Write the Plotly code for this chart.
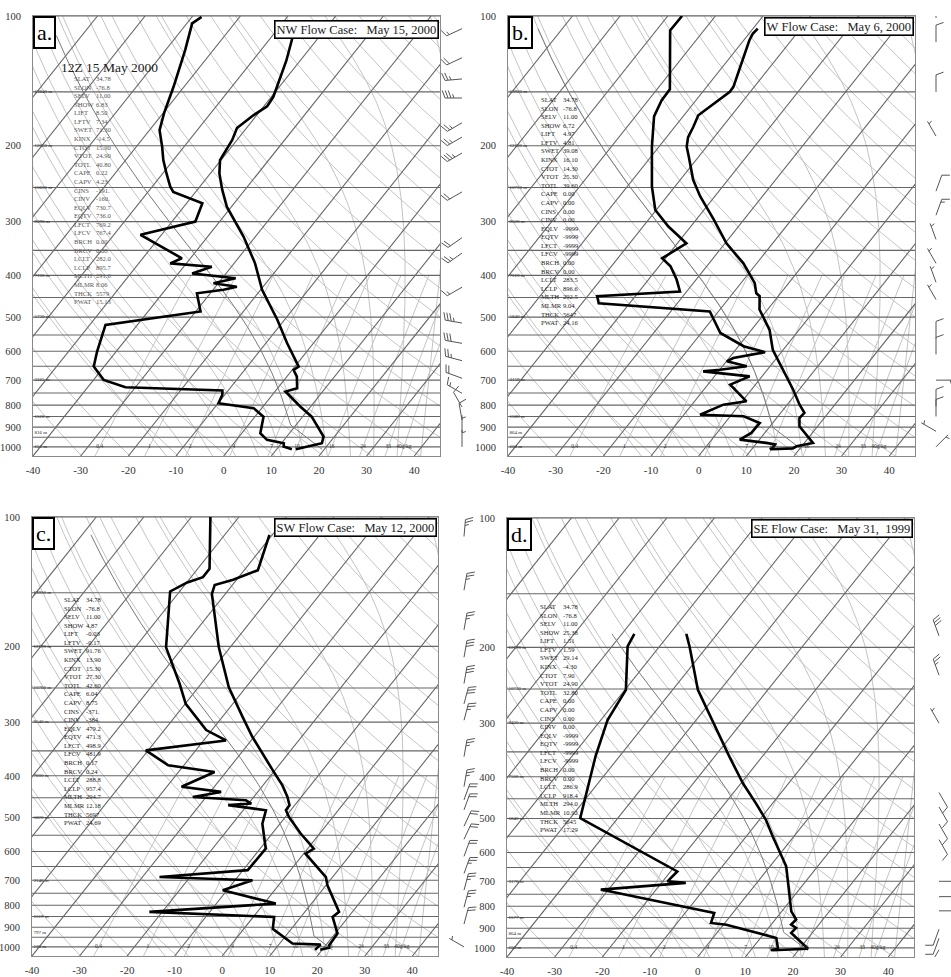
import numpy as np
import plotly.graph_objects as go

# ------------------------------------------------------------------ data
panel_keys = ["a", "b", "c", "d"]
panel_titles = ["NW Flow Case:   May 15, 2000", "W Flow Case:   May 6, 2000",
                "SW Flow Case:   May 12, 2000", "SE Flow Case:   May 31,  1999"]
header_a = "12Z 15 May 2000"

# temperature profiles (hPa, degC)
a_temp_p = [1013, 998, 981, 946, 851, 806, 744, 731, 687, 663, 651, 575, 507, 432, 403, 375, 325, 297, 277, 253,
            232, 216, 203, 194, 182, 170, 162, 154, 146, 127, 111]
a_temp_t = [14.0, 16.3, 18.5, 17.7, 11.9, 7.8, 2.2, 4.1, 2.1, 0.3, 0.8, -5.5, -11.5, -19.7, -22.6, -25.6, -32.5,
            -37.3, -41.0, -44.8, -48.1, -50.2, -50.7, -51.0, -52.0, -50.7, -49.3, -49.6, -50.5, -52.9, -55.7]
a_dew_p = [1013, 998, 981, 963, 930, 851, 813, 792, 757, 740, 727, 699, 651, 601, 521, 485, 440, 432, 425, 417,
           406, 396, 382, 375, 365, 322, 300, 272, 256, 249, 232, 216, 201, 184, 168, 146, 120, 104, 100.5]
a_dew_t = [13.2, 11.0, 10.5, 6.4, 3.9, 1.8, -1.7, -9.9, -10.5, -11.2, -32.1, -37.9, -42.2, -44.0, -46.7, -29.0,
           -32.8, -27.8, -25.5, -31.0, -27.2, -37.1, -34.1, -43.4, -41.8, -54.4, -45.1, -46.7, -54.7, -56.2, -59.2,
           -62.1, -64.6, -67.9, -69.8, -72.2, -75.9, -78.9, -78.0]

b_temp_p = [1013, 1008, 997, 979, 896, 857, 834, 798, 736, 650, 595, 535, 507, 480, 447, 440, 417, 375, 337, 297,
            262, 240, 212, 201, 191, 181, 170, 158, 150, 146, 114, 110, 107]
b_temp_t = [14.0, 18.5, 18.9, 21.8, 16.2, 14.8, 15.0, 12.6, 8.7, 2.4, -2.2, -6.2, -8.9, -11.7, -13.9, -15.1, -17.1,
            -22.8, -29.7, -36.3, -43.1, -47.3, -52.1, -54.2, -55.5, -56.1, -57.0, -55.4, -54.3, -54.4, -58.8, -59.2,
            -59.0]
b_dew_p = [1013, 1003, 987, 979, 962, 928, 880, 849, 842, 798, 784, 717, 686, 668, 662, 650, 633, 622, 603, 584,
           544, 485, 464, 447, 436, 409, 381, 365, 337, 308, 282, 249, 201, 171, 157, 148, 108, 100]
b_dew_t = [13.8, 14.2, 14.1, 12.0, 5.9, 7.2, 7.3, 2.8, -6.6, -3.4, 0.9, -5.3, -2.6, -13.2, -9.9, -4.9, -9.9, -9.1,
           -3.4, -8.9, -16.0, -21.8, -46.5, -48.0, -31.4, -34.1, -37.6, -40.7, -38.1, -44.7, -50.2, -54.8, -61.5,
           -66.1, -67.2, -67.3, -77.1, -77.0]

c_temp_p = [1016, 1004, 991, 931, 852, 829, 719, 688, 607, 591, 545, 499, 481, 468, 448, 421, 388, 355, 325, 292,
            260, 249, 201, 177, 151, 144, 140, 133, 110]
c_temp_t = [19.6, 21.1, 20.7, 20.5, 16.7, 17.2, 10.3, 8.6, 0.4, 1.3, -4.0, -9.2, -11.0, -11.1, -12.9, -15.9, -20.5,
            -25.4, -30.3, -35.7, -41.5, -43.6, -52.4, -57.0, -62.8, -63.7, -60.7, -57.1, -60.6]
c_dew_p = [1016, 988, 982, 908, 852, 829, 793, 738, 700, 688, 663, 591, 517, 481, 468, 464, 456, 448, 436, 424,
           392, 378, 349, 331, 313, 272, 244, 201, 149, 142, 138, 132, 100]
c_dew_t = [18.5, 18.8, 12.7, 6.1, 4.4, -22.7, 2.5, -10.9, -6.3, -26.4, -9.0, -8.8, -13.7, -15.2, -24.0, -19.4, -21.1,
           -32.8, -27.7, -36.9, -32.4, -43.3, -50.5, -35.3, -41.2, -49.9, -54.6, -63.5, -72.0, -69.9, -67.5, -67.5,
           -76.0]

d_temp_p = [1013, 1005, 923, 899, 883, 859, 822, 694, 646, 551, 504, 461, 414, 359, 300, 251, 199, 186]
d_temp_t = [14.6, 21.8, 15.6, 15.8, 14.2, 14.4, 12.0, 6.0, 3.4, -4.4, -8.6, -13.5, -19.6, -26.9, -35.9, -44.7,
            -53.7, -56.5]
d_dew_p = [1013, 1005, 948, 883, 875, 829, 738, 732, 706, 700, 664, 499, 359, 295, 251, 199, 186]
d_dew_t = [14.2, 15.5, 13.3, 0.6, -2.9, -3.9, -29.6, -31.6, -14.9, -19.0, -18.6, -47.9, -55.0, -58.6, -59.8, -66.7,
           -67.4]

# winds (pressure, staff direction in degrees, speed in knots)
a_wind_p = [107, 125, 140, 155, 177, 191, 208, 256, 327, 355, 426, 516, 575, 631, 693, 751, 808, 866, 925, 1000]
a_wind_dir = [245, 245, 265, 270, 240, 240, 240, 240, 235, 235, 240, 280, 280, 285, 290, 300, 330, 350, 0, 0]
a_wind_spd = [15, 20, 25, 35, 25, 25, 35, 20, 20, 25, 15, 35, 30, 25, 20, 15, 10, 10, 5, 5]
b_wind_p = [101, 115, 150, 190, 255, 290, 330, 375, 415, 455, 560, 610, 700, 805, 850, 920, 1000]
b_wind_dir = [0, 0, 0, 330, 20, 20, 340, 330, 340, 330, 0, 0, 90, 0, 0, 300, 45]
b_wind_spd = [10, 10, 10, 5, 10, 15, 5, 5, 5, 5, 10, 10, 5, 10, 10, 5, 5]
c_wind_p = [100, 111, 148, 183, 212, 244, 272, 297, 361, 424, 455, 480, 524, 562, 616, 675, 738, 809, 885, 1000]
c_wind_dir = [5, 5, 10, 10, 10, 10, 15, 15, 10, 10, 20, 20, 25, 25, 20, 20, 15, 15, 15, 300]
c_wind_spd = [25, 25, 25, 25, 30, 30, 30, 25, 25, 25, 20, 20, 20, 20, 20, 25, 25, 25, 20, 5]
d_wind_p = [188, 232, 300, 435, 470, 515, 560, 700, 760, 820, 905, 950, 1010]
d_wind_dir = [340, 340, 330, 150, 150, 150, 150, 90, 90, 90, 200, 200, 210]
d_wind_spd = [30, 25, 5, 10, 10, 10, 10, 5, 5, 5, 10, 10, 10]

# sounding statistics
stat_names = ["SLAT", "SLON", "SELV", "SHOW", "LIFT", "LFTV", "SWET", "KINX", "CTOT", "VTOT", "TOTL", "CAPE",
              "CAPV", "CINS", "CINV", "EQLV", "EQTV", "LFCT", "LFCV", "BRCH", "BRCV", "LCLT", "LCLP", "MLTH",
              "MLMR", "THCK", "PWAT"]
a_stats = ["34.78", "-76.8", "11.00", "6.83", "8.50", "7.34", "71.30", "-14.5", "15.90", "24.90", "40.80", "0.22",
           "4.23", "-191.", "-160.", "730.7", "736.0", "769.2", "767.4", "0.00", "0.08", "282.0", "895.7", "291.6",
           "8.06", "5579", "15.13"]
b_stats = ["34.78", "-76.8", "11.00", "6.72", "4.97", "4.81", "39.08", "16.10", "14.30", "25.30", "39.60", "0.00",
           "0.00", "0.00", "0.00", "-9999", "-9999", "-9999", "-9999", "0.00", "0.00", "283.5", "896.6", "292.5",
           "9.04", "5647", "24.16"]
c_stats = ["34.78", "-76.8", "11.00", "4.87", "-0.03", "-0.17", "91.76", "13.90", "15.30", "27.30", "42.60", "6.04",
           "8.75", "-371.", "-384.", "479.2", "471.3", "498.9", "481.9", "0.17", "0.24", "288.8", "957.4", "294.7",
           "12.18", "5697", "24.69"]
d_stats = ["34.78", "-76.8", "11.00", "25.38", "1.51", "1.59", "29.14", "-4.30", "7.90", "24.90", "32.80", "0.00",
           "0.00", "0.00", "0.00", "-9999", "-9999", "-9999", "-9999", "0.00", "0.00", "286.9", "918.4", "294.0",
           "10.92", "5645", "17.29"]
# mixed-layer parcel (theta K, mixing ratio g/kg) and surface pressure
ml_theta = [291.6, 292.5, 294.0, 294.0]
ml_mixr = [8.06, 9.04, 12.18, 10.92]
sfc_p = [1013, 1013, 1016, 1013]
parcel_top = [111, 107, 110, 186]

# heights of mandatory levels (m)
height_levels = [100, 150, 200, 250, 300, 400, 500, 700, 850, 925, 1000]
a_heights = [16350, 13840, 12050, 10600, 9390, 7130, 5730, 3165, 1526, 816, 151]
b_heights = [16390, 13920, 12100, 10750, 9520, 7510, 5840, 3159, 1580, 864, 150]
c_heights = [16450, 13950, 12190, 10760, 9540, 7600, 5820, 3146, 1519, 797, 120]
d_heights = [None, None, 12190, 10730, 9420, 7500, 5840, 3170, 1577, 864, 150]

# axis labels
x_ticks = [-40, -30, -20, -10, 0, 10, 20, 30, 40]
y_ticks = [100, 200, 300, 400, 500, 600, 700, 800, 900, 1000]
mixr_values = [0.4, 1, 2, 4, 7, 10, 16, 24, 33, 40]
mixr_labels = ["0.4", "1", "2", "4", "7", "10", "16", "24", "33", "40g/kg"]

# ------------------------------------------------------------------ diagram constants
K_SKEW = 72.0
P_BOT, P_TOP = 1050.0, 100.0
X_MIN, X_MAX = -40.0, 45.4
RD, CP, LV, EPS = 287.04, 1005.7, 2.501e6, 0.622
KAPPA = RD / CP
W, H = 951, 977

# layout boxes in window pixels (left, top, right, bottom)
boxes = [(33, 16, 440, 456), (508, 16, 915, 456), (32, 517, 438, 956), (507, 518, 914, 957)]
barb_cols = [(441, 481, 21), (916, 951, 20), (439, 481, 25), (915, 951, 24)]
stat_pos = [(73, 95, 78), (540, 562, 99), (63, 85, 599), (539, 562, 606)]


def fx(px):
    return px / W


def fy(py):
    return 1 - py / H


def skew_x(T, p):
    return np.asarray(T) + K_SKEW * np.log10(P_BOT / np.asarray(p, float))


def sat_vp(Tk):
    return 6.112 * np.exp(17.67 * (Tk - 273.15) / (Tk - 29.65))


def moist_rate(Tk, p):
    es = sat_vp(Tk)
    rs = EPS * es / (p - es)
    return (RD * Tk + LV * rs) / (CP + LV ** 2 * rs * EPS / (RD * Tk ** 2))


def moist_lines(T0, p_start, p_end, n=240):
    lnp = np.linspace(np.log(p_start), np.log(p_end), n)
    T = np.atleast_1d(np.asarray(T0, float)) + 273.15
    out = [T.copy()]
    for i in range(n - 1):
        h = lnp[i + 1] - lnp[i]
        p0, pm, p1 = np.exp(lnp[i]), np.exp(lnp[i] + h / 2), np.exp(lnp[i + 1])
        k1 = moist_rate(T, p0)
        k2 = moist_rate(T + h / 2 * k1, pm)
        k3 = moist_rate(T + h / 2 * k2, pm)
        k4 = moist_rate(T + h * k3, p1)
        T = T + h / 6 * (k1 + 2 * k2 + 2 * k3 + k4)
        out.append(T.copy())
    return np.exp(lnp), np.array(out) - 273.15


def dew_from_w(w, p):
    e = w * np.asarray(p, float) / (622.0 + w)
    lg = np.log(e / 6.112)
    return 243.5 * lg / (17.67 - lg)


def parcel_trace(theta, w, ps, ptop):
    p = np.linspace(ps, ptop, 3000)
    tdry = theta * (p / 1000.0) ** KAPPA - 273.15
    tdw = dew_from_w(w, p)
    idx = int(np.argmax(tdry <= tdw))
    pm, tm = moist_lines([tdry[idx]], p[idx], ptop, 200)
    return np.concatenate([p[:idx + 1], pm[1:]]), np.concatenate([tdry[:idx + 1], tm[1:, 0]])


# ---- background lines (computed once, shared by the four panels)
light_x, light_y = [], []
p_curve = np.geomspace(P_BOT, P_TOP, 120)
for th in np.arange(220, 481, 10):
    T = th * (p_curve / 1000.0) ** KAPPA - 273.15
    light_x += list(skew_x(T, p_curve)) + [None]
    light_y += list(p_curve) + [None]
t0_moist = np.arange(-15, 41, 5)
pu, tu = moist_lines(t0_moist, 1000.0, P_TOP, 240)
pd_, td_ = moist_lines(t0_moist, 1000.0, P_BOT, 10)
for j in range(len(t0_moist)):
    pp = np.concatenate([pd_[::-1], pu[1:]])
    tt = np.concatenate([td_[::-1, j], tu[1:, j]])
    light_x += list(skew_x(tt, pp)) + [None]
    light_y += list(pp) + [None]
p_mix = np.geomspace(P_BOT, 400, 30)
for w in mixr_values:
    light_x += list(skew_x(dew_from_w(w, p_mix), p_mix)) + [None]
    light_y += list(p_mix) + [None]

dark_x, dark_y = [], []
for T in range(-120, 51, 10):
    dark_x += [T, T + K_SKEW * np.log10(P_BOT / P_TOP), None]
    dark_y += [P_BOT, P_TOP, None]
for p in range(100, 1001, 50):
    dark_x += [X_MIN - 5, X_MAX + 5, None]
    dark_y += [p, p, None]

temps = [(a_temp_p, a_temp_t), (b_temp_p, b_temp_t), (c_temp_p, c_temp_t), (d_temp_p, d_temp_t)]
dews = [(a_dew_p, a_dew_t), (b_dew_p, b_dew_t), (c_dew_p, c_dew_t), (d_dew_p, d_dew_t)]
winds = [(a_wind_p, a_wind_dir, a_wind_spd), (b_wind_p, b_wind_dir, b_wind_spd),
         (c_wind_p, c_wind_dir, c_wind_spd), (d_wind_p, d_wind_dir, d_wind_spd)]
stats = [a_stats, b_stats, c_stats, d_stats]
heights = [a_heights, b_heights, c_heights, d_heights]

SERIF = "Liberation Serif, Times New Roman, serif"
fig = go.Figure()
annotations = []
layout_axes = {}

for i in range(4):
    sfx = "" if i == 0 else str(i + 1)
    xa, ya = "x" + sfx, "y" + sfx
    l, t, r, b = boxes[i]
    ppd = (b - t) / np.log10(P_BOT / P_TOP)

    fig.add_trace(go.Scatter(x=light_x, y=light_y, mode="lines", xaxis=xa, yaxis=ya,
                             line=dict(color="#c4c4c4", width=1), hoverinfo="skip", showlegend=False))
    fig.add_trace(go.Scatter(x=dark_x, y=dark_y, mode="lines", xaxis=xa, yaxis=ya,
                             line=dict(color="#666666", width=1.1), hoverinfo="skip", showlegend=False))
    pp, pt = parcel_trace(ml_theta[i], ml_mixr[i], sfc_p[i], parcel_top[i])
    fig.add_trace(go.Scatter(x=skew_x(pt, pp), y=pp, mode="lines", xaxis=xa, yaxis=ya,
                             line=dict(color="#7a7a7a", width=1), hoverinfo="skip", showlegend=False))
    for prof in (temps[i], dews[i]):
        fig.add_trace(go.Scatter(x=skew_x(prof[1], prof[0]), y=prof[0], mode="lines", xaxis=xa, yaxis=ya,
                                 line=dict(color="black", width=2.6), showlegend=False))
    # height labels
    hl = [(p, f"{h} m") for p, h in zip(height_levels, heights[i]) if h is not None]
    fig.add_trace(go.Scatter(x=[X_MIN + 0.3] * len(hl), y=[v[0] for v in hl], text=[v[1] for v in hl],
                             mode="text", textposition="middle right", xaxis=xa, yaxis=ya,
                             textfont=dict(family=SERIF, size=5, color="#222"), showlegend=False))
    # mixing-ratio labels
    fig.add_trace(go.Scatter(x=skew_x(dew_from_w(np.array(mixr_values, float), 1000.0), 1000.0),
                             y=[1000] * len(mixr_values), text=mixr_labels, mode="text",
                             textposition="middle center", xaxis=xa, yaxis=ya,
                             textfont=dict(family=SERIF, size=5.5, color="#333"), showlegend=False))

    # wind barbs in a pixel-scaled column axis
    c0, c1, base = barb_cols[i]
    bx_name = "x" + str(5 + i)
    bxs, bys = [], []
    for p, d, s in zip(*winds[i]):
        th = np.radians(d)
        ux, uy = np.sin(th), np.cos(th)
        fth = np.radians(d + 70)
        fxv, fyv = np.sin(fth), np.cos(fth)
        L, FL, SP = 17.0, 8.0, 3.0
        segs = [((0, 0), (L * ux, L * uy))]
        pos = L
        nfull, half = int(s // 10), (s % 10) >= 5
        for k in range(nfull):
            segs.append(((pos * ux, pos * uy), (pos * ux + FL * fxv, pos * uy + FL * fyv)))
            pos -= SP
        if half:
            if nfull == 0:
                pos = L - SP
            segs.append(((pos * ux, pos * uy), (pos * ux + FL / 2 * fxv, pos * uy + FL / 2 * fyv)))
        for (x0, y0), (x1, y1) in segs:
            bxs += [base + x0, base + x1, None]
            bys += [10 ** (np.log10(p) - y0 / ppd), 10 ** (np.log10(p) - y1 / ppd), None]
    fig.add_trace(go.Scatter(x=bxs, y=bys, mode="lines", xaxis=bx_name, yaxis=ya,
                             line=dict(color="#555", width=1), hoverinfo="skip", showlegend=False))

    layout_axes["xaxis" + sfx] = dict(domain=[fx(l), fx(r)], range=[X_MIN, X_MAX], anchor=ya,
                                      tickvals=x_ticks, ticktext=[str(v) for v in x_ticks],
                                      showgrid=False, zeroline=False, ticks="", ticklen=0,
                                      ticklabelstandoff=4, automargin=False,
                                      showline=True, mirror=True, linecolor="#8a8a8a", linewidth=1,
                                      tickfont=dict(family=SERIF, size=11, color="#333"))
    layout_axes["yaxis" + sfx] = dict(domain=[fy(b), fy(t)], type="log",
                                      range=[np.log10(P_BOT), np.log10(P_TOP)], anchor=xa,
                                      tickvals=y_ticks, ticktext=[str(v) for v in y_ticks],
                                      showgrid=False, zeroline=False, ticks="", ticklen=0,
                                      ticklabelstandoff=9, automargin=False,
                                      showline=True, mirror=True, linecolor="#8a8a8a", linewidth=1,
                                      tickfont=dict(family=SERIF, size=10.5, color="#333"))
    layout_axes["xaxis" + str(5 + i)] = dict(domain=[fx(c0), min(fx(c1), 1.0)], range=[0, c1 - c0], anchor=ya,
                                             visible=False, showgrid=False, zeroline=False, automargin=False)

    # panel letter and title boxes
    annotations.append(dict(x=fx(l), y=fy(t), xref="paper", yref="paper", xanchor="left", yanchor="top",
                            text=panel_keys[i] + ".", showarrow=False, bgcolor="white",
                            bordercolor="black", borderwidth=2, borderpad=2,
                            font=dict(family=SERIF, size=22, color="black")))
    tx, ty = (r - 1, t + 4) if i == 0 else (r - 1, t + 1)
    annotations.append(dict(x=fx(tx), y=fy(ty), xref="paper", yref="paper", xanchor="right", yanchor="top",
                            text=panel_titles[i].replace(" ", "\u00a0"), showarrow=False, bgcolor="white",
                            bordercolor="black", borderwidth=1.6, borderpad=1,
                            font=dict(family=SERIF, size=12.5, color="#222")))
    # stats block
    lx, vx, y0 = stat_pos[i]
    scol = "#555" if i == 0 else "#222"
    for txt, xx in (("<br>".join(stat_names), lx), ("<br>".join(stats[i]), vx)):
        annotations.append(dict(x=fx(xx), y=fy(y0 - 4.2), xref="paper", yref="paper", xanchor="left",
                                yanchor="top", align="left", text=txt, showarrow=False, borderpad=0,
                                font=dict(family=SERIF, size=6.6, color=scol)))

annotations.append(dict(x=fx(59), y=fy(68), xref="paper", yref="paper", xanchor="left", yanchor="middle",
                        text=header_a, showarrow=False, font=dict(family=SERIF, size=13.5, color="#222")))

fig.update_layout(width=W, height=H, margin=dict(l=0, r=0, t=0, b=0, autoexpand=False),
                  paper_bgcolor="white", plot_bgcolor="white", showlegend=False,
                  annotations=annotations, **layout_axes)
fig.write_html("out.html", config={"displayModeBar": False},
               post_script="document.body.style.margin='0px';document.body.style.overflow='hidden';")
